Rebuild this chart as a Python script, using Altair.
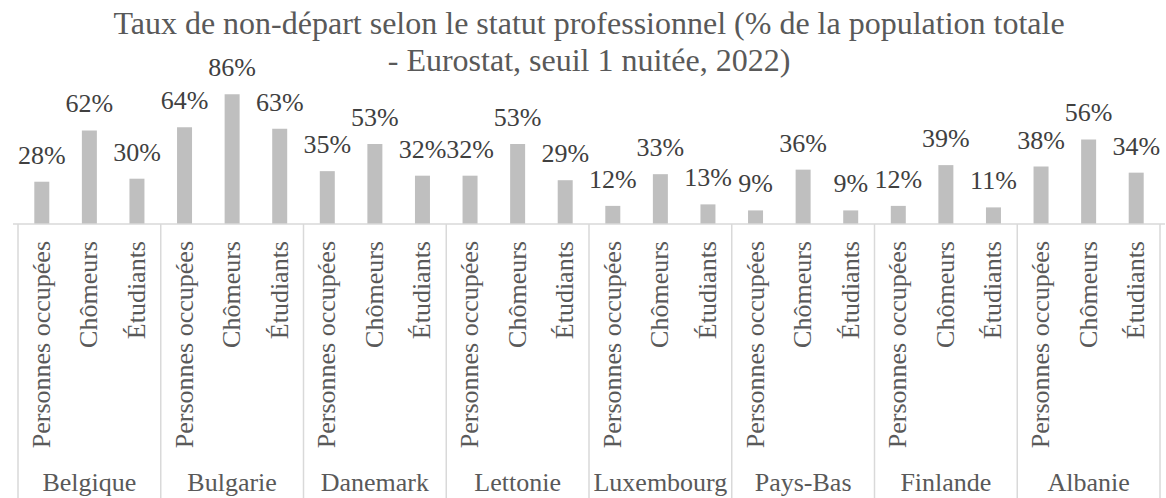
import altair as alt
import pandas as pd

countries = ["Belgique", "Bulgarie", "Danemark", "Lettonie", "Luxembourg", "Pays-Bas", "Finlande", "Albanie"]
statuses = ["Personnes occupées", "Chômeurs", "Étudiants"]
employed = [28, 64, 35, 32, 12, 9, 12, 38]
unemployed = [62, 86, 53, 53, 33, 36, 39, 56]
students = [30, 63, 32, 29, 13, 9, 11, 34]

rows = []
for g, c in enumerate(countries):
    for s_i, (s, vals) in enumerate(zip(statuses, [employed, unemployed, students])):
        rows.append({"country": c, "status": s, "value": vals[g],
                     "pos": g * 3 + s_i + 0.5, "label": f"{vals[g]}%"})
df = pd.DataFrame(rows)
groups = pd.DataFrame({"country": countries, "center": [g * 3 + 1.5 for g in range(len(countries))]})
bounds = pd.DataFrame({"b": list(range(0, 3 * len(countries) + 1, 3))})
zero = pd.DataFrame({"v": [0]})

FONT = "Liberation Serif"
W, H = 1152, 151
xs = alt.Scale(domain=[0, 3 * len(countries)], nice=False, zero=False)
ys = alt.Scale(domain=[0, 100], nice=False)
LINE = "#D9D9D9"

bars = alt.Chart(df).mark_bar(size=15, color="#BFBFBF").encode(
    x=alt.X("pos:Q", scale=xs, axis=None),
    y=alt.Y("value:Q", scale=ys, axis=None),
)
labels = alt.Chart(df).mark_text(font=FONT, fontSize=26, color="#404040",
                                 baseline="alphabetic", dy=-18).encode(
    x=alt.X("pos:Q", scale=xs, axis=None),
    y=alt.Y("value:Q", scale=ys, axis=None),
    text="label:N",
)
baseline = alt.Chart(zero).mark_rule(color=LINE, strokeWidth=1.5).encode(
    x=alt.value(0), x2=alt.value(W),
    y=alt.Y("v:Q", scale=ys, axis=None),
)
vlines = alt.Chart(bounds).mark_rule(color=LINE, strokeWidth=1.5).encode(
    x=alt.X("b:Q", scale=xs, axis=None),
    y=alt.value(H), y2=alt.value(H + 280),
)
sub = alt.Chart(df).mark_text(font=FONT, fontSize=26, color="#595959", angle=270,
                              align="right", baseline="middle").encode(
    x=alt.X("pos:Q", scale=xs, axis=None),
    y=alt.value(H + 17),
    text="status:N",
)
ctry = alt.Chart(groups).mark_text(font=FONT, fontSize=26, color="#595959",
                                   align="center", baseline="alphabetic").encode(
    x=alt.X("center:Q", scale=xs, axis=None),
    y=alt.value(H + 267),
    text="country:N",
)

chart = alt.layer(bars, labels, baseline, vlines, sub, ctry).properties(
    width=W, height=H,
    title=alt.TitleParams(
        text=["Taux de non-départ selon le statut professionnel (% de la population totale",
              "- Eurostat, seuil 1 nuitée, 2022)"],
        font=FONT, fontSize=32, fontWeight="normal", color="#595959",
        anchor="middle", baseline="alphabetic", lineHeight=37, offset=0, dy=48,
    ),
    autosize=alt.AutoSizeParams(type="none"),
    padding={"left": 13, "top": 73, "right": 1, "bottom": 274},
).configure(font=FONT, background="white").configure_view(stroke=None).configure_text(font=FONT).configure_title(font=FONT)

chart.save("out.html", embed_options={"renderer": "svg", "actions": False})
